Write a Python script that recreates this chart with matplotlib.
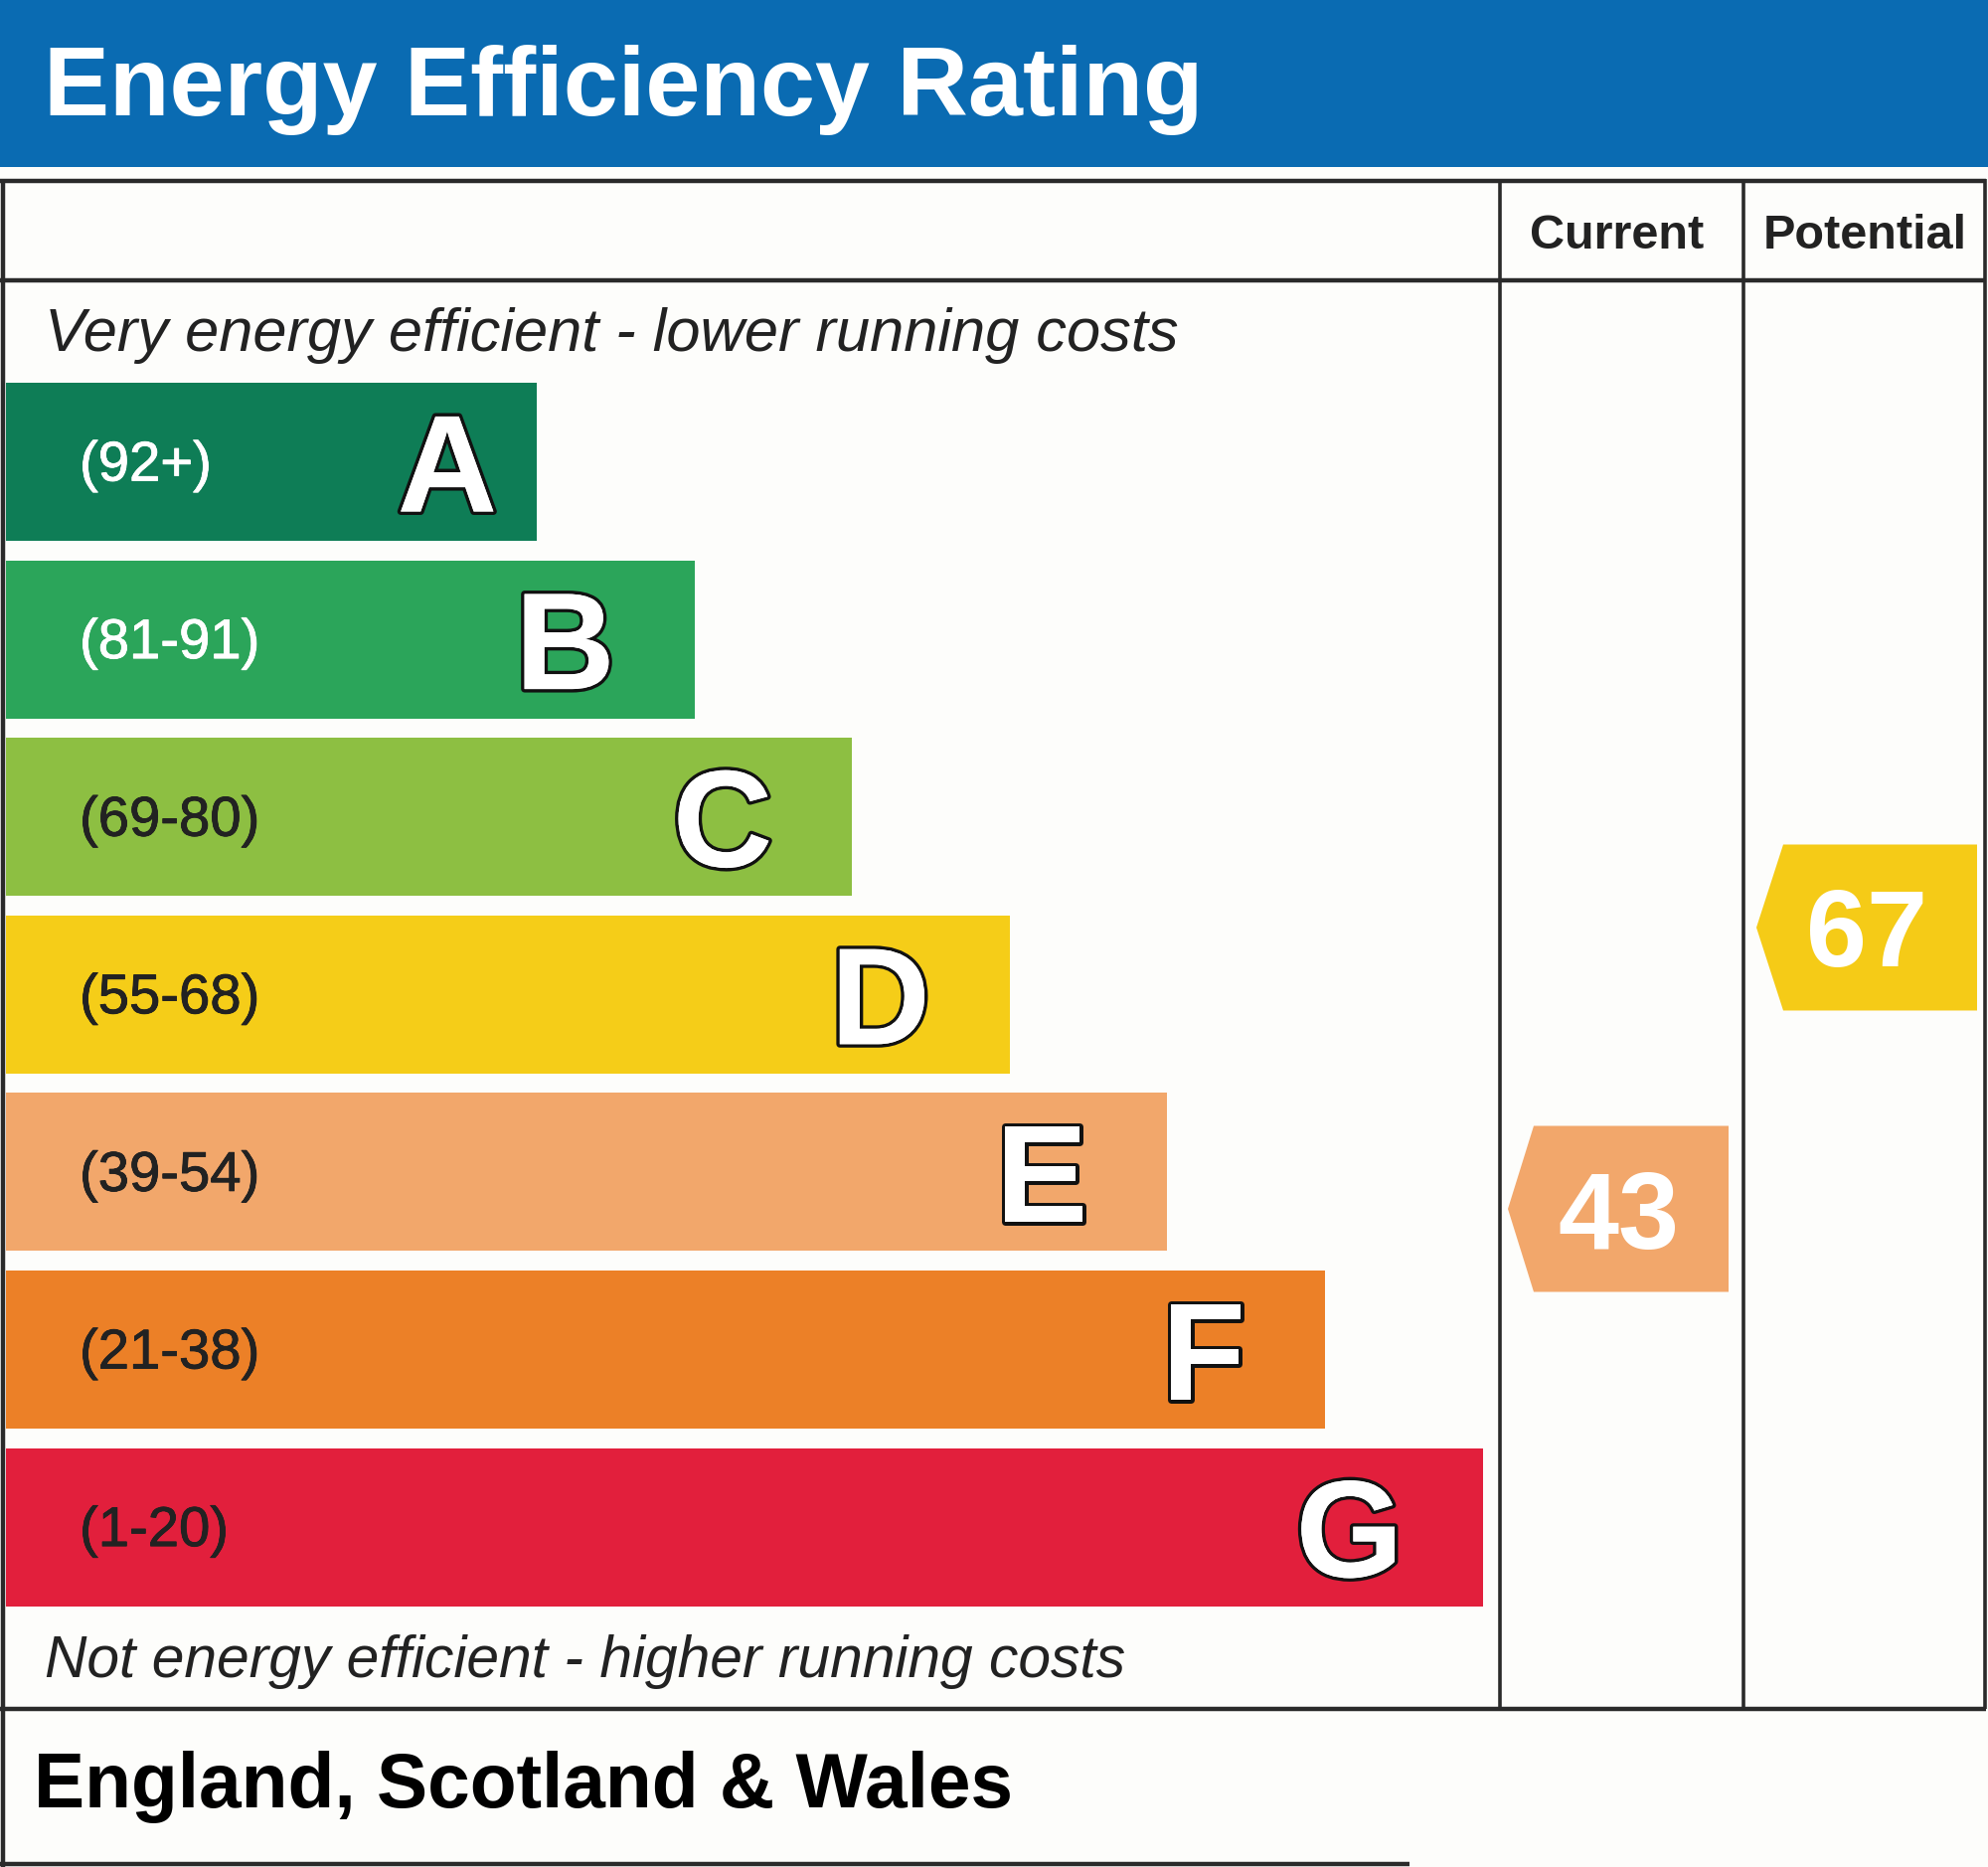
import matplotlib
matplotlib.use("Agg")
import matplotlib.pyplot as plt
from matplotlib.patches import Rectangle, Polygon
from matplotlib import patheffects as pe
from matplotlib.transforms import blended_transform_factory

# ---- data ----
bands = ["A", "B", "C", "D", "E", "F", "G"]
ranges = ["(92+)", "(81-91)", "(69-80)", "(55-68)", "(39-54)", "(21-38)", "(1-20)"]
band_colors = ["#0E7D56", "#2BA55A", "#8DBF42", "#F5CD18", "#F2A76B", "#EC8027", "#E21F3C"]
range_text_colors = ["white", "white", "#222222", "#222222", "#222222", "#222222", "#222222"]
columns = ["Current", "Potential"]
current_rating = 43
potential_rating = 67
current_color = "#F2A76B"
potential_color = "#F5CB17"
title = "Energy Efficiency Rating"
top_note = "Very energy efficient - lower running costs"
bottom_note = "Not energy efficient - higher running costs"
region = "England, Scotland & Wales"

plt.rcParams['font.family'] = ['Liberation Sans', 'DejaVu Sans']

W, H = 2000, 1878
fig = plt.figure(figsize=(W / 100, H / 100), dpi=100)
fig.patch.set_facecolor("#FDFDFB")
ax = fig.add_axes([0, 0, 1, 1])
ax.set_xlim(0, W)
ax.set_ylim(H, 0)
ax.axis("off")

line_c = "#2a2a2a"

# header
ax.add_patch(Rectangle((0, 0), W, 168, color="#0A6BB2", lw=0))
ax.text(44, 116, title, color="white", fontsize=71.3, fontweight="bold", va="baseline", ha="left")

# frame lines
def hline(y, x0, x1, lw=3.2):
    ax.plot([x0, x1], [y, y], color=line_c, lw=lw, solid_capstyle="butt")
def vline(x, y0, y1, lw=3.2):
    ax.plot([x, x], [y0, y1], color=line_c, lw=lw, solid_capstyle="butt")

hline(182, 0, 1998)
hline(282, 0, 1998)
hline(1719, 0, 1998)
hline(1875, 0, 1418)
vline(3, 180, 1878)
vline(1509, 180, 1719, lw=2.6)
vline(1754, 180, 1719, lw=2.6)
vline(1997, 180, 1719, lw=2.6)

# column headings
col_centers = [1627, 1876]
for c, xc in zip(columns, col_centers):
    ax.text(xc, 250, c, fontsize=35, fontweight="bold", color="#222222", ha="center", va="baseline")

# notes
ax.text(45, 353, top_note, fontsize=44.2, fontstyle="italic", color="#222222", ha="left", va="baseline")
ax.text(45, 1687, bottom_note, fontsize=42.3, fontstyle="italic", color="#222222", ha="left", va="baseline")
ax.text(34, 1818, region, fontsize=55.2, fontweight="bold", color="black", ha="left", va="baseline")

# bars
bar_left = 6
row_top0 = 385
row_step = 178.6
bar_h = 159
first_len = 534
len_step = 158.6
n = len(bands)
centers = [row_top0 + row_step * i + bar_h / 2 for i in range(n)]
lengths = [first_len + len_step * i for i in range(n)]
ax.barh(centers, lengths, height=bar_h, left=bar_left, color=band_colors, align="center", lw=0)

letter_fx = [pe.withStroke(linewidth=5, foreground="#111111"), pe.Normal()]
for i, (b, r, tc) in enumerate(zip(bands, ranges, range_text_colors)):
    yc = centers[i]
    right = bar_left + lengths[i]
    ax.text(80, yc + 19, r, fontsize=40.5, fontweight="normal", color=tc, ha="left", va="baseline",
            path_effects=[pe.withStroke(linewidth=0.6, foreground=tc), pe.Normal()])
    off = 40 if b == "A" else 80
    ax.text(right - off, yc + 50, b, fontsize=100, fontweight="bold", color="white",
            ha="right", va="baseline", path_effects=letter_fx)

# rating scale axes for the arrows
y_top_px, y_bot_px = 385, 1616
rax = fig.add_axes([0, 1 - y_bot_px / H, 1, (y_bot_px - y_top_px) / H])
rax.set_xlim(0, W)
rax.set_ylim(9.08, 113.47)
rax.axis("off")
rax.patch.set_alpha(0)
tr = blended_transform_factory(ax.transData, rax.transData)
half = 7.08

def arrow(val, tip_x, flat_x, right_x, color):
    poly = Polygon([(tip_x, val), (flat_x, val + half), (right_x, val + half),
                    (right_x, val - half), (flat_x, val - half)],
                   closed=True, facecolor=color, edgecolor="none", transform=tr)
    rax.add_patch(poly)
    rax.text((tip_x + right_x) / 2, val, str(val), transform=tr, fontsize=79, fontweight="bold",
             color="white", ha="center", va="center_baseline")

arrow(current_rating, 1517, 1543, 1739, current_color)
arrow(potential_rating, 1767, 1794, 1989, potential_color)

fig.savefig("out.png", dpi=100, facecolor=fig.get_facecolor())
